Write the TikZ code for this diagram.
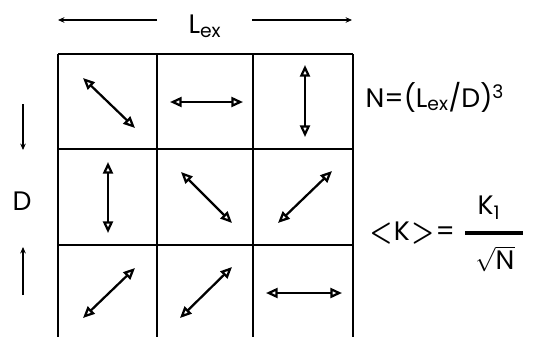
\documentclass[tikz,border=0pt]{standalone}
\usepackage{amsmath}
\usepackage{graphicx}
\usepackage{fontspec}
\setmainfont{Poppins}
\usetikzlibrary{arrows.meta, positioning}

\newcommand{\bigless}{\raisebox{-0.02em}{\scalebox{1.05}[1.3]{\boldmath$<$}}}
\newcommand{\bigmore}{\raisebox{-0.02em}{\scalebox{1.05}[1.3]{\boldmath$>$}}}

\begin{document}
\begin{tikzpicture}[
  x=0.025cm, y=-0.025cm,
  font=\fontsize{19}{22}\selectfont,
  cell/.style={line width=1.5pt},
  spin/.style={{Triangle[open, length=2.9mm, width=2.5mm]}-{Triangle[open, length=2.9mm, width=2.5mm]}, line width=1.6pt, line join=round},
  dim/.style={-{Stealth[length=1.6mm, width=1.4mm]}, line width=0.8pt},
  bar/.style={line width=2.2pt},
  tag/.style={inner sep=1pt}
]
\useasboundingbox (0,0) rectangle (558,337);

% lattice of cells
\foreach \x in {58,157,253,353}
  \draw [cell] (\x,54) -- (\x,337);
\foreach \y in {54,149,245}
  \draw [cell] (58,\y) -- (353,\y);

% spins, one per cell
\draw [spin] (83,78)   -- (135,128);
\draw [spin] (170,102) -- (243,102);
\draw [spin] (305,65)  -- (305,137);
\draw [spin] (108,162) -- (108,233);
\draw [spin] (181,172) -- (232,223);
\draw [spin] (332,171) -- (278,223);
\draw [spin] (135,268) -- (83,318);
\draw [spin] (232,267) -- (180,318);
\draw [spin] (266,293) -- (342,293);

% sizes
\node (lex)    [tag] at (205,26) {L\textsubscript{ex}};
\coordinate (lexA) at (157,20);
\coordinate (lexB) at (58,20);
\coordinate (lexC) at (252,20);
\coordinate (lexD) at (352,20);
\draw [dim] (lexA) -- (lexB);
\draw [dim] (lexC) -- (lexD);

\node (dlabel) [tag] at (22,201) {D};
\coordinate (dA) at (23,104);
\coordinate (dB) at (23,150);
\coordinate (dC) at (23,295);
\coordinate (dD) at (23,247);
\draw [dim] (dA) -- (dB);
\draw [dim] (dC) -- (dD);

% formulas
\node (nform)  [tag, anchor=west] at (364,97) {N=(L\textsubscript{ex}/D)\textsuperscript{3}};
\node (kavg)   [tag, anchor=west] at (368,233) {\bigless\hspace{1pt}K\hspace{1pt}\bigmore\hspace{1pt}=};
\node (knum)   [tag] at (489,208) {K\textsubscript{1}};
\coordinate (barA) at (465,233);
\coordinate (barB) at (523,233);
\draw [bar] (barA) -- (barB);
\node (kden)   [tag] at (495,259) {$\sqrt{\text{N}}$};
\end{tikzpicture}
\end{document}
